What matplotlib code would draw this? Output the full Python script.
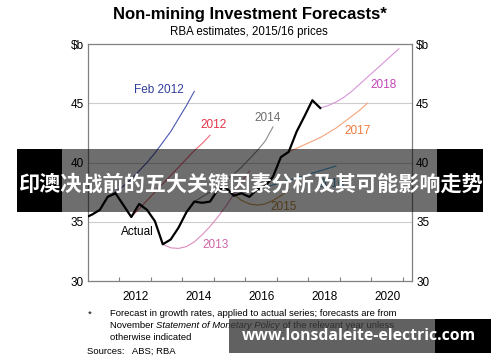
import matplotlib
matplotlib.use("Agg")
import matplotlib.pyplot as plt
from matplotlib.patches import Rectangle

# quarterly positions: t = 2011.125 + 0.25 * k
def qpos(k0, n):
    return [2011.125 + 0.25 * (k0 + i) for i in range(n)]

actual = [35.3, 35.6, 36.0, 37.1, 37.4, 36.4, 35.4, 36.5, 36.0, 35.05, 33.1,
          33.5, 34.5, 35.8, 36.7, 36.6, 36.7, 37.7, 37.9, 37.2, 37.4, 37.1,
          37.75, 38.0, 38.8, 40.45, 40.9, 42.6, 43.9, 45.25, 44.6]  # k = -1..29
feb2012 = [37.1, 37.5, 38.0, 38.6, 39.3, 40.0, 40.8, 41.7, 42.6, 43.7, 44.8, 46.0]  # k = 2..13
f2012 = [35.4, 36.1, 36.8, 37.5, 38.2, 38.9, 39.6, 40.3, 41.0, 41.6, 42.3]  # k = 5..15
f2013 = [33.1, 32.8, 32.75, 32.9, 33.3, 33.9, 34.6, 35.4, 36.3, 37.3, 38.3, 39.3]  # k = 9..20
f2014 = [36.7, 37.1, 37.5, 38.0, 38.5, 39.0, 39.6, 40.3, 41.0, 41.8, 43.0]  # k = 13..23
f2015 = [37.9, 37.3, 36.8, 36.5, 36.4, 36.5, 36.8, 37.2, 37.7]  # k = 17..25
f2016 = [37.75, 37.9, 38.1, 38.3, 38.5, 38.7, 38.9, 39.1, 39.3, 39.5, 39.7]  # k = 21..31
f2017 = [40.9, 41.2, 41.5, 41.8, 42.1, 42.5, 42.9, 43.4, 43.9, 44.4, 45.0]  # k = 25..35
f2018 = [44.6, 44.8, 45.1, 45.5, 46.0, 46.6, 47.2, 47.8, 48.4, 49.0, 49.6]  # k = 29..39

forecasts = [
    ("Feb 2012", 2, feb2012, "#4a58b0", "#2f3d9c", (2013.26, 46.1)),
    ("2012", 5, f2012, "#ea6a78", "#e23446", (2015.0, 43.2)),
    ("2013", 9, f2013, "#dd8cbc", "#d063a5", (2015.06, 33.0)),
    ("2014", 13, f2014, "#8c8c8c", "#6e6e6e", (2016.72, 43.76)),
    ("2015", 17, f2015, "#c89a4a", "#b8893a", (2017.22, 36.26)),
    ("2016", 21, f2016, "#4aa8d8", "#3a98c8", (2018.75, 38.2)),
    ("2017", 25, f2017, "#f5a47a", "#f07a3c", (2019.55, 42.66)),
    ("2018", 29, f2018, "#d895d8", "#c445b8", (2020.4, 46.57)),
]

yticks = [30, 35, 40, 45, 50]
ytick_labels = ["30", "35", "40", "45", "$b"]
year_ticks = list(range(2012, 2022))
year_labels = ["2012", "2014", "2016", "2018", "2020"]

plt.rcParams["font.family"] = ["Liberation Sans", "DejaVu Sans"]
W, H = 500, 362
fig = plt.figure(figsize=(W / 100, H / 100), dpi=100)
ax = fig.add_axes([88 / W, 1 - 281 / H, 324 / W, 237 / H])

for label, k0, vals, lc, tc, (lx, ly) in forecasts:
    ax.plot(qpos(k0, len(vals)), vals, color=lc, lw=0.8, zorder=2)
    ax.text(lx, ly, label, color=tc, fontsize=8.5, ha="center", va="center")

ax.plot(qpos(-1, len(actual)), actual, color="black", lw=1.6, zorder=3)
ax.text(2012.57, 34.1, "Actual", color="black", fontsize=8.5, ha="center", va="center")

ax.set_xlim(2011.0, 2021.29)
ax.set_ylim(30, 50)
ax.set_yticks(yticks)
ax.set_yticklabels(ytick_labels)
ax.tick_params(axis="y", length=0, labelsize=8.5, pad=3, labelright=True)
ax.set_xticks(year_ticks)
ax.set_xticklabels([])
ax.set_xticks([int(y) + 0.5 for y in year_labels], minor=True)
ax.set_xticklabels(year_labels, minor=True)
ax.tick_params(axis="x", which="major", direction="in", length=3, color="#808080")
ax.tick_params(axis="x", which="minor", length=0, labelsize=8.5, pad=7)
for y in [35, 40, 45]:
    ax.axhline(y, color="#cccccc", lw=0.8, zorder=1)
for s in ax.spines.values():
    s.set_color("#808080")
    s.set_linewidth(0.9)

fig.text(250 / W, 1 - 15 / H, "Non-mining Investment Forecasts*", ha="center", va="center",
         fontsize=12, fontweight="bold")
fig.text(249 / W, 1 - 32 / H, "RBA estimates, 2015/16 prices", ha="center", va="center",
         fontsize=8.3)

# footnote, with the SMP title in italics
note = 6.8
renderer = fig.canvas.get_renderer()
fig.text(88 / W, 1 - 314 / H, "*", ha="left", va="center", fontsize=note)
fig.text(110 / W, 1 - 314 / H, "Forecast in growth rates, applied to actual series; forecasts are from",
         ha="left", va="center", fontsize=note)
x = 110 / W
for part, style in [("November ", "normal"), ("Statement of Monetary Policy", "italic"),
                    (" of the relevant year unless", "normal")]:
    t = fig.text(x, 1 - 326 / H, part, ha="left", va="center", fontsize=note, fontstyle=style)
    x += t.get_window_extent(renderer).width / W
fig.text(110 / W, 1 - 337 / H, "otherwise indicated", ha="left", va="center", fontsize=note)
fig.text(87 / W, 1 - 351 / H, "Sources:   ABS; RBA", ha="left", va="center", fontsize=note)

# overlay banner
def frect(x0, y0, x1, y1, **kw):
    fig.add_artist(Rectangle((x0 / W, 1 - y1 / H), (x1 - x0) / W, (y1 - y0) / H,
                             transform=fig.transFigure, lw=0, **kw))

frect(17, 149, 483, 212, color="black", alpha=0.57, zorder=10)
frect(17, 149, 62, 212, color="black", zorder=10)
frect(437, 149, 483, 212, color="black", zorder=10)
fig.text(250 / W, 1 - 184 / H, "印澳决战前的五大关键因素分析及其可能影响走势",
         ha="center", va="center", color="white", fontsize=15.2, fontweight="bold",
         family=["Noto Sans CJK SC", "DejaVu Sans"], zorder=11)

# watermark
frect(229, 319, 435, 353, color="#3a3a3a", alpha=0.8, zorder=10)
frect(435, 319, 491, 353, color="black", zorder=10)
fig.text(359 / W, 1 - 336 / H, "www.lonsdaleite-electric.com", ha="center", va="center",
         color="white", fontsize=11.3, fontweight="bold",
         family=["Open Sans", "DejaVu Sans"], zorder=11)

fig.savefig("out.png", dpi=100)
